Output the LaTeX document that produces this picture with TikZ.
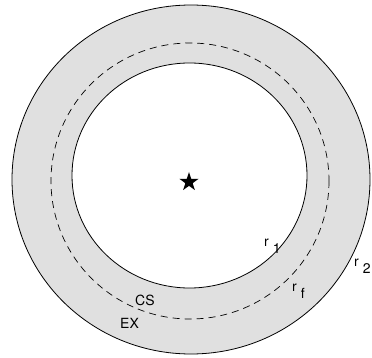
\documentclass[tikz,border=0pt]{standalone}
\usepackage{fontspec}
\setmainfont{TeX Gyre Heros}
\usetikzlibrary{shapes.geometric}
\definecolor{ringgrey}{HTML}{E0E0E0}
\tikzset{
  circ/.style={line width=0.8pt, draw=black},
  lbl/.style={inner sep=0pt, font=\fontsize{14}{16}\selectfont, anchor=base west},
}
\begin{document}
\begin{tikzpicture}[x=1pt,y=-1pt]
\useasboundingbox (0,0) rectangle (372,358);
\draw[circ, fill=ringgrey] (191,179.5) ellipse [x radius=179, y radius=174.5];
\draw[circ, fill=white] (189.5,175.5) ellipse [x radius=117.5, y radius=112.5];
\draw[line width=0.7pt, dash pattern=on 7pt off 5pt] (190,181) ellipse [x radius=139, y radius=138];
\node[star, star points=5, star point ratio=2.6, fill=black, minimum size=20pt, inner sep=0pt] (star) at (189,182) {};
\node[lbl] (r1) at (264,246) {r\hspace{4pt}\raisebox{-7pt}{1}};
\node[lbl] (rf) at (292,291) {r\hspace{4pt}\raisebox{-7pt}{f}};
\node[lbl] (r2) at (354,266) {r\hspace{4pt}\raisebox{-7pt}{2}};
\node[lbl] (cs) at (135,305) {CS};
\node[lbl] (ex) at (120,328) {EX};
\end{tikzpicture}
\end{document}
